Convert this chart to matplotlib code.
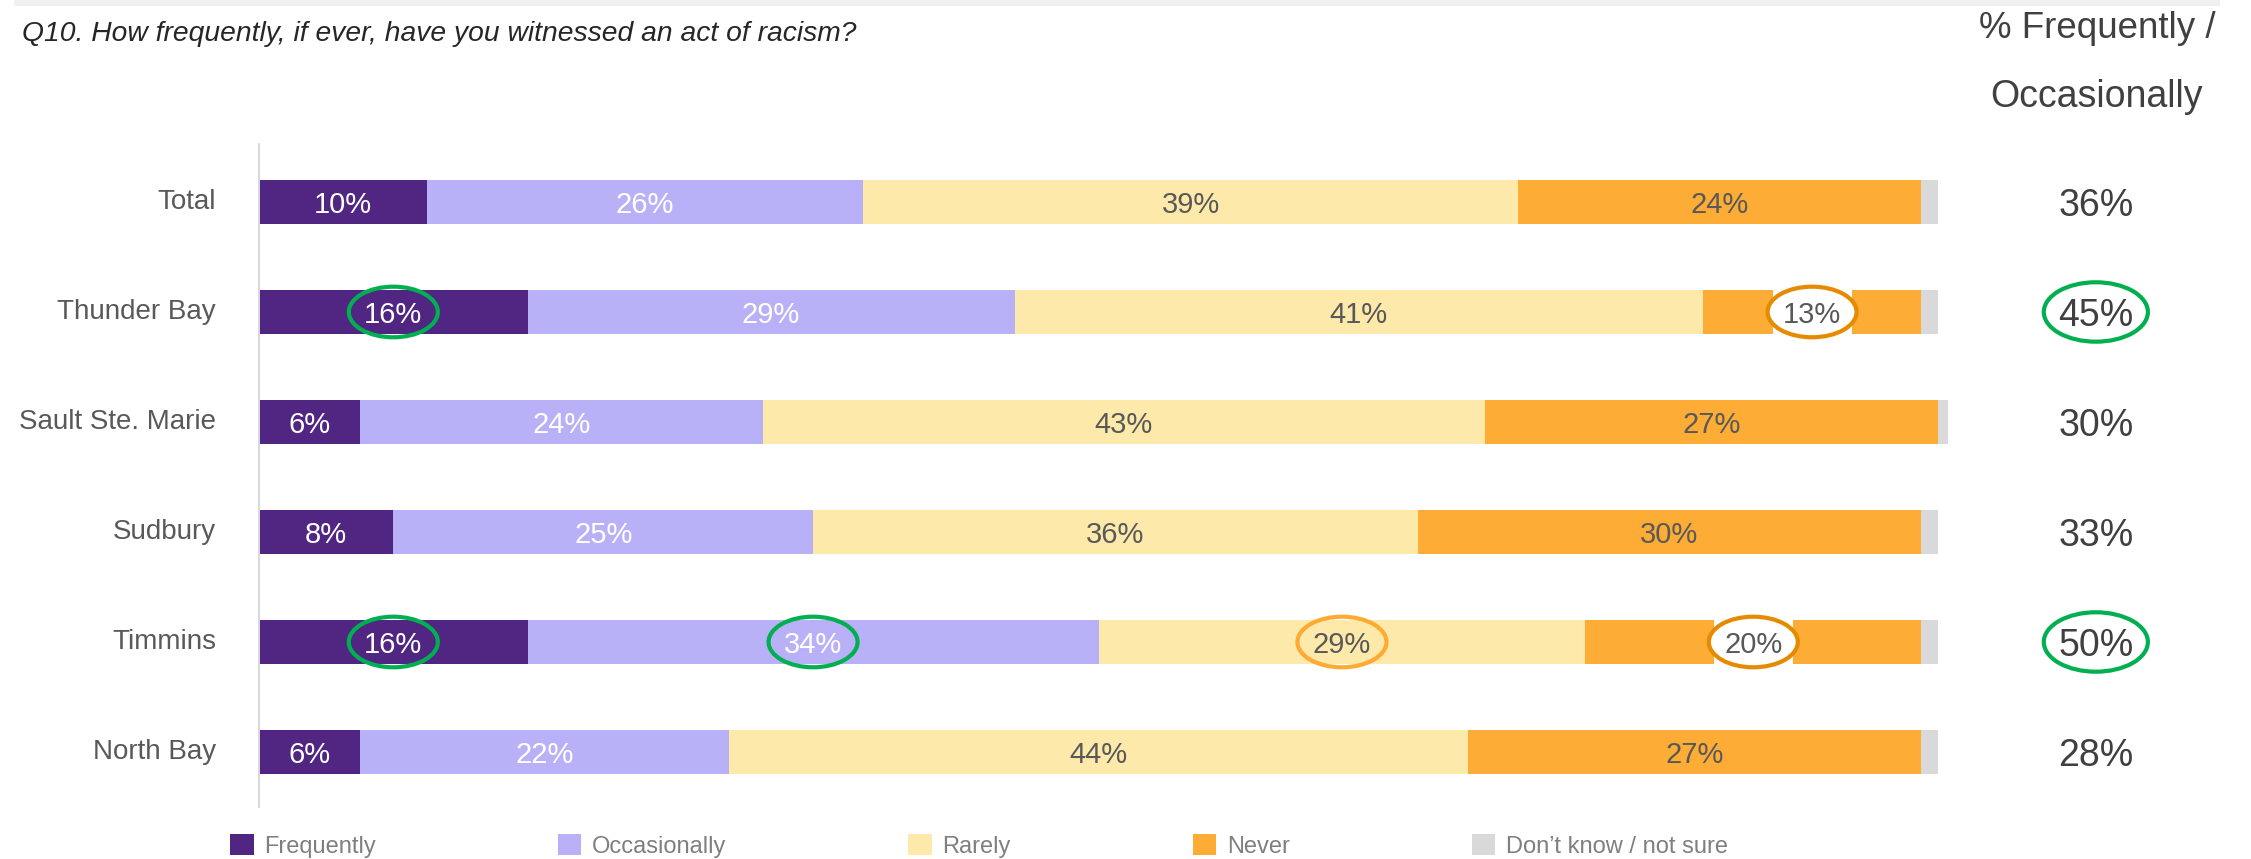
import matplotlib.pyplot as plt
from matplotlib.patches import Ellipse, Rectangle, Patch

plt.rcParams['font.family'] = ['Liberation Sans', 'DejaVu Sans']

# survey results, % of respondents
cities = ['Total', 'Thunder Bay', 'Sault Ste. Marie', 'Sudbury', 'Timmins', 'North Bay']
frequently = [10, 16, 6, 8, 16, 6]
occasionally = [26, 29, 24, 25, 34, 22]
rarely = [39, 41, 43, 36, 29, 44]
never = [24, 13, 27, 30, 20, 27]
dont_know = [1, 1, 0.6, 1, 1, 1]

series_names = ['Frequently', 'Occasionally', 'Rarely', 'Never', 'Don\u2019t know / not sure']
colors = ['#502682', '#b9b1f7', '#fde9aa', '#fdac35', '#d9d9d9']
text_colors = ['white', 'white', '#595959', '#595959', None]

# highlighted cells: (city, series index, ring colour, cut out of bar)
callouts = [
    ('Thunder Bay', 0, '#00b050', False),
    ('Thunder Bay', 3, '#e68a00', True),
    ('Timmins', 0, '#00b050', False),
    ('Timmins', 1, '#00b050', False),
    ('Timmins', 2, '#ffaa33', False),
    ('Timmins', 3, '#e68a00', True),
]
net_callouts = ['Thunder Bay', 'Timmins']

W, H = 2251, 859
fig = plt.figure(figsize=(W / 100, H / 100), dpi=100)
ax = fig.add_axes([259 / W, 52 / H, 1679 / W, 663 / H])

series = [frequently, occasionally, rarely, never, dont_know]
y = list(range(len(cities)))
bar_h = 0.4
centers = {}
left = [0] * len(cities)
for k, vals in enumerate(series):
    ax.barh(y, vals, left=left, height=bar_h, color=colors[k], label=series_names[k],
            zorder=2, clip_on=False)
    for i, v in enumerate(vals):
        cx = left[i] + v / 2
        centers[(cities[i], k)] = cx
        if text_colors[k] is not None:
            ax.text(cx, i, f'{v}%', ha='center', va='center_baseline', fontsize=21,
                    color=text_colors[k], zorder=6)
    left = [a + b for a, b in zip(left, vals)]

# ringed values
for city, k, col, cut in callouts:
    i = cities.index(city)
    cx = centers[(city, k)]
    if cut:
        ax.add_patch(Rectangle((cx - 2.35, i - bar_h / 2 - 0.01), 4.7, bar_h + 0.02,
                               facecolor='white', edgecolor='none', zorder=3))
    ax.add_patch(Ellipse((cx, i), 5.3, 0.46, facecolor='white' if cut else 'none',
                         edgecolor=col, linewidth=3, zorder=4))

# net frequently / occasionally column
net_x = 109.4
for i, city in enumerate(cities):
    net = frequently[i] + occasionally[i]
    ax.text(net_x, i, f'{net}%', ha='center', va='center_baseline', fontsize=27,
            color='#404040', clip_on=False)
    if city in net_callouts:
        ax.add_patch(Ellipse((net_x, i), 6.2, 0.54, facecolor='none', edgecolor='#00b050',
                             linewidth=3, clip_on=False, zorder=4))

ax.set_xlim(0, 100)
ax.set_ylim(5.5, -0.527)
ax.set_yticks(y)
ax.set_yticklabels(cities, fontsize=20, color='#595959', va='center')
ax.tick_params(axis='y', length=0, pad=31)
ax.set_xticks([])
for s in ['top', 'right', 'bottom']:
    ax.spines[s].set_visible(False)
ax.spines['left'].set_color('#d9d9d9')
ax.spines['left'].set_linewidth(1.4)

fig.add_artist(Rectangle((14 / W, 1 - 6 / H), 2206 / W, 6 / H, transform=fig.transFigure,
                         facecolor='#f0f0f0', edgecolor='none'))
fig.text(22 / W, 1 - 34 / H, 'Q10. How frequently, if ever, have you witnessed an act of racism?',
         style='italic', fontsize=20.3, color='#262626', va='center')
fig.text(2097 / W, 1 - 28 / H, '% Frequently /', fontsize=26.5, color='#404040',
         ha='center', va='center')
fig.text(2097 / W, 1 - 97 / H, 'Occasionally', fontsize=27, color='#404040',
         ha='center', va='center')

handles = [Patch(facecolor=c, edgecolor='none') for c in colors]
fig.legend(handles, series_names, loc='center left', bbox_to_anchor=(230 / W, 13 / H),
           ncol=5, frameon=False, fontsize=17, handlelength=1, handleheight=1,
           handletextpad=0.45, columnspacing=7.7, borderpad=0, borderaxespad=0,
           labelcolor='#7f7f7f')

fig.savefig('out.png', dpi=100)
